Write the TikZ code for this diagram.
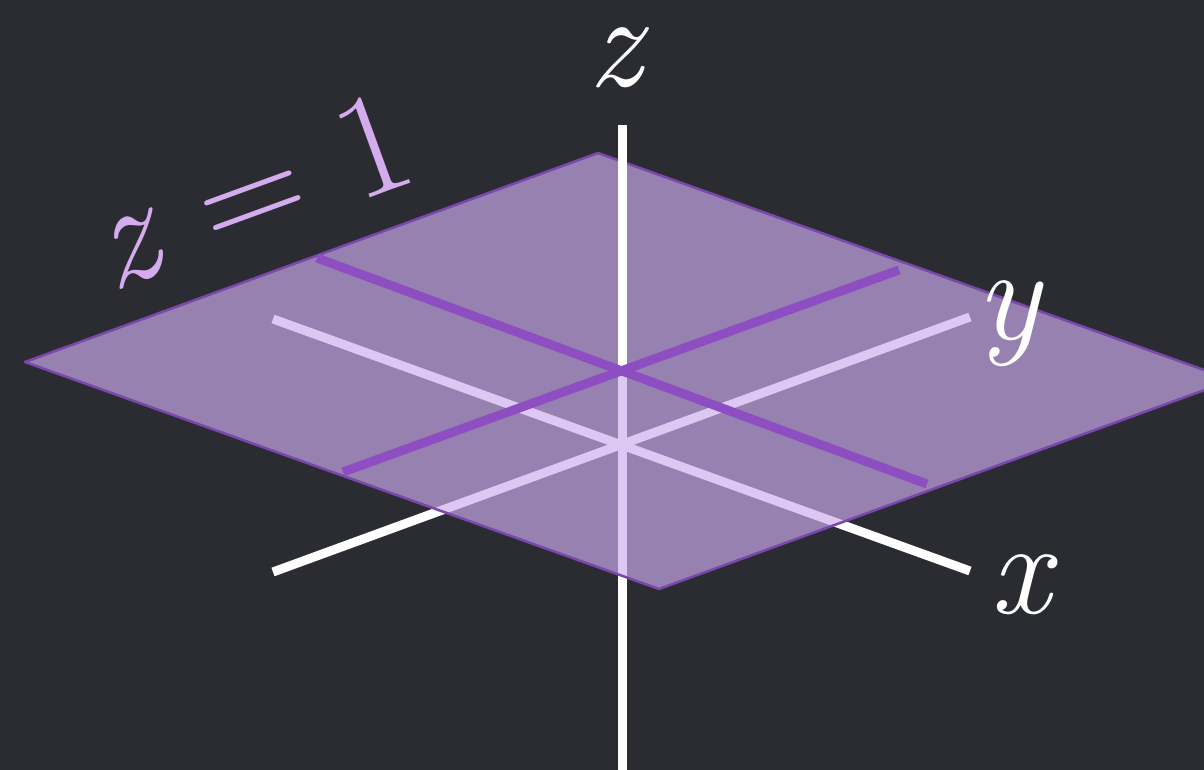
\documentclass[tikz,border=0pt]{standalone}

\definecolor{board}{RGB}{42,44,50}
\definecolor{planefill}{RGB}{205,172,238}
\definecolor{planeedge}{RGB}{122,72,172}
\definecolor{gridline}{RGB}{140,78,192}
\definecolor{planelabel}{RGB}{212,172,238}

\begin{document}
\begin{tikzpicture}[
  x=0.02cm, y=-0.02cm,
  axis/.style={draw=white, line width=9*0.02cm},
  onplane/.style={draw=gridline, line width=9*0.02cm},
  plane/.style={fill=planefill, fill opacity=0.67, draw=planeedge, line width=2.5*0.02cm, line join=round},
  lbl/.style={text=white, inner sep=0pt, font=\fontsize{76}{80}\selectfont\itshape}
]

% chalkboard
\fill[board] (0,0) rectangle (1204,770);
\useasboundingbox (0,0) rectangle (1204,770);

% axis end points
\coordinate (ztop) at (622,125);
\coordinate (zbot) at (622,770);
\coordinate (xneg) at (273,319);
\coordinate (xpos) at (970,571);
\coordinate (yneg) at (273,572);
\coordinate (ypos) at (970,317);

% plane z=1
\coordinate (pl) at (25,362);
\coordinate (pt) at (598,153);
\coordinate (pr) at (1232,380);
\coordinate (pb) at (659,589);
\coordinate (pc) at (622,370);

\coordinate (ga) at (317,258);
\coordinate (gb) at (927,484);
\coordinate (gc) at (343,472);
\coordinate (gd) at (899,270);

\draw[axis] (xneg) -- (xpos);
\draw[axis] (yneg) -- (ypos);
\draw[axis] (ztop) -- (zbot);

\path[plane] (pl) -- (pt) -- (pr) -- (pb) -- cycle;

\draw[axis] (ztop) -- (pc);
\draw[onplane] (ga) -- (gb);
\draw[onplane] (gc) -- (gd);

\node[lbl] (zlabel) at (615,58) {z};
\node[lbl] (xlabel) at (1021,585) {x};
\node[lbl] (ylabel) at (1008,324) {y};
\node[lbl, text=planelabel, rotate=20, font=\fontsize{84}{88}\selectfont\itshape]
  (planename) at (250,190) {z {\upshape = 1}};

\end{tikzpicture}
\end{document}
